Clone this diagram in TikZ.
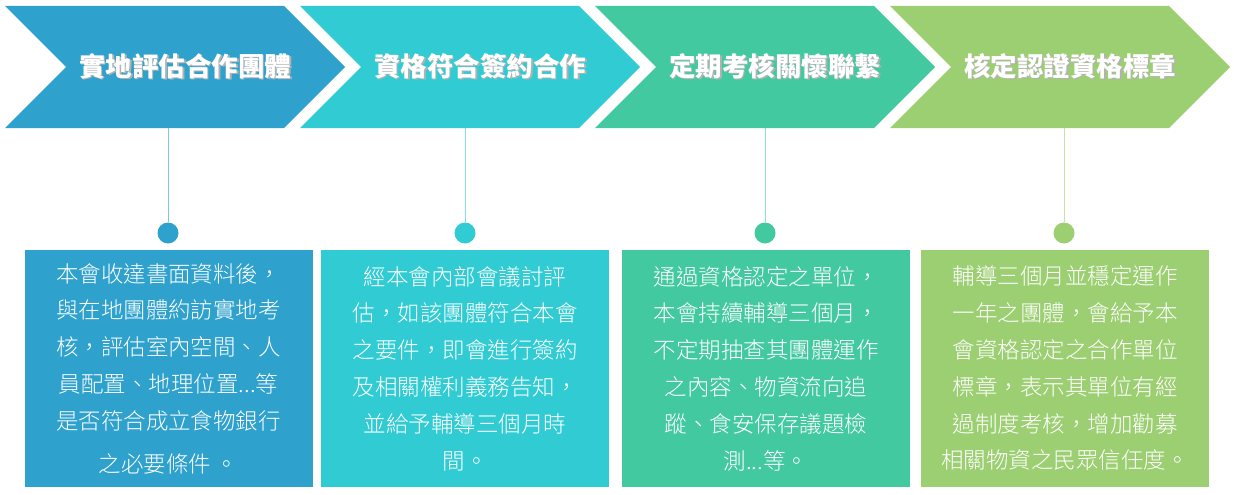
\documentclass[tikz,border=0pt]{standalone}
\usepackage{fontspec}
\setmainfont{Noto Sans CJK TC}
\newfontfamily\cardfont{Noto Sans CJK TC Light}
\usepackage{xcolor}
\usepackage{tikz}
\usetikzlibrary{shapes.symbols, positioning}

\definecolor{stepone}{HTML}{2EA1CD}
\definecolor{steptwo}{HTML}{31CCD3}
\definecolor{stepthree}{HTML}{43C9A0}
\definecolor{stepfour}{HTML}{9CCF72}

% title with a soft drop shadow, kept in a fixed-width box
\newcommand{\titletext}[1]{\makebox[180pt]{\hspace*{20pt}\makebox[0pt][l]{\hspace{1.5pt}\raisebox{-1.5pt}{\textcolor{black!30}{#1}}}#1}}

\begin{document}
\begin{tikzpicture}[
  x=1pt, y=-1pt,
  every node/.style={text=white, inner sep=0pt},
  chevron/.style={signal, signal to=east, signal from=west,
                  signal pointer angle=90, minimum width=340pt,
                  minimum height=122pt,
                  font=\fontsize{26.5}{30}\selectfont\bfseries},
  card/.style={rectangle, minimum width=288pt, minimum height=237pt,
               align=center, font=\cardfont\fontsize{22.5}{36.8}\selectfont},
  dot/.style={circle, minimum size=21pt},
  stem/.style={line width=1pt},
]
  \useasboundingbox (0,0) rectangle (1234,495);

  \node[chevron, fill=stepone] (plan) at (175,67) {\titletext{實地評估合作團體}};
  \node[chevron, fill=steptwo] (sign) at (470,67) {\titletext{資格符合簽約合作}};
  \node[chevron, fill=stepthree] (check) at (765,67) {\titletext{定期考核關懷聯繫}};
  \node[chevron, fill=stepfour] (badge) at (1060,67) {\titletext{核定認證資格標章}};

  \node[dot, fill=stepone] (pin1) at (168,233) {};
  \node[dot, fill=steptwo] (pin2) at (465,233) {};
  \node[dot, fill=stepthree] (pin3) at (765,233) {};
  \node[dot, fill=stepfour] (pin4) at (1064,233) {};

  \node[card, fill=stepone] (note1) at (168.5,368.5) {本會收達書面資料後，\\與在地團體約訪實地考\\核，評估室內空間、人\\員配置、地理位置...等\\是否符合成立食物銀行\\[6pt]之必要條件 。};
  \node[card, fill=steptwo] (note2) at (465,368.5) {經本會內部會議討評\\估，如該團體符合本會\\之要件，即會進行簽約\\及相關權利義務告知，\\並給予輔導三個月時\\間。};
  \node[card, fill=stepthree] (note3) at (766,368.5) {通過資格認定之單位，\\本會持續輔導三個月，\\不定期抽查其團體運作\\之內容、物資流向追\\蹤、食安保存議題檢\\測...等。};
  \node[card, fill=stepfour] (note4) at (1065,368.5) {輔導三個月並穩定運作\\一年之團體，會給予本\\會資格認定之合作單位\\標章，表示其單位有經\\過制度考核，增加勸募\\相關物資之民眾信任度。};

  \draw[stem, stepone!60] (plan.south -| pin1) -- (pin1);
  \draw[stem, steptwo!60] (sign.south -| pin2) -- (pin2);
  \draw[stem, stepthree!60] (check.south -| pin3) -- (pin3);
  \draw[stem, stepfour!60] (badge.south -| pin4) -- (pin4);
\end{tikzpicture}
\end{document}
